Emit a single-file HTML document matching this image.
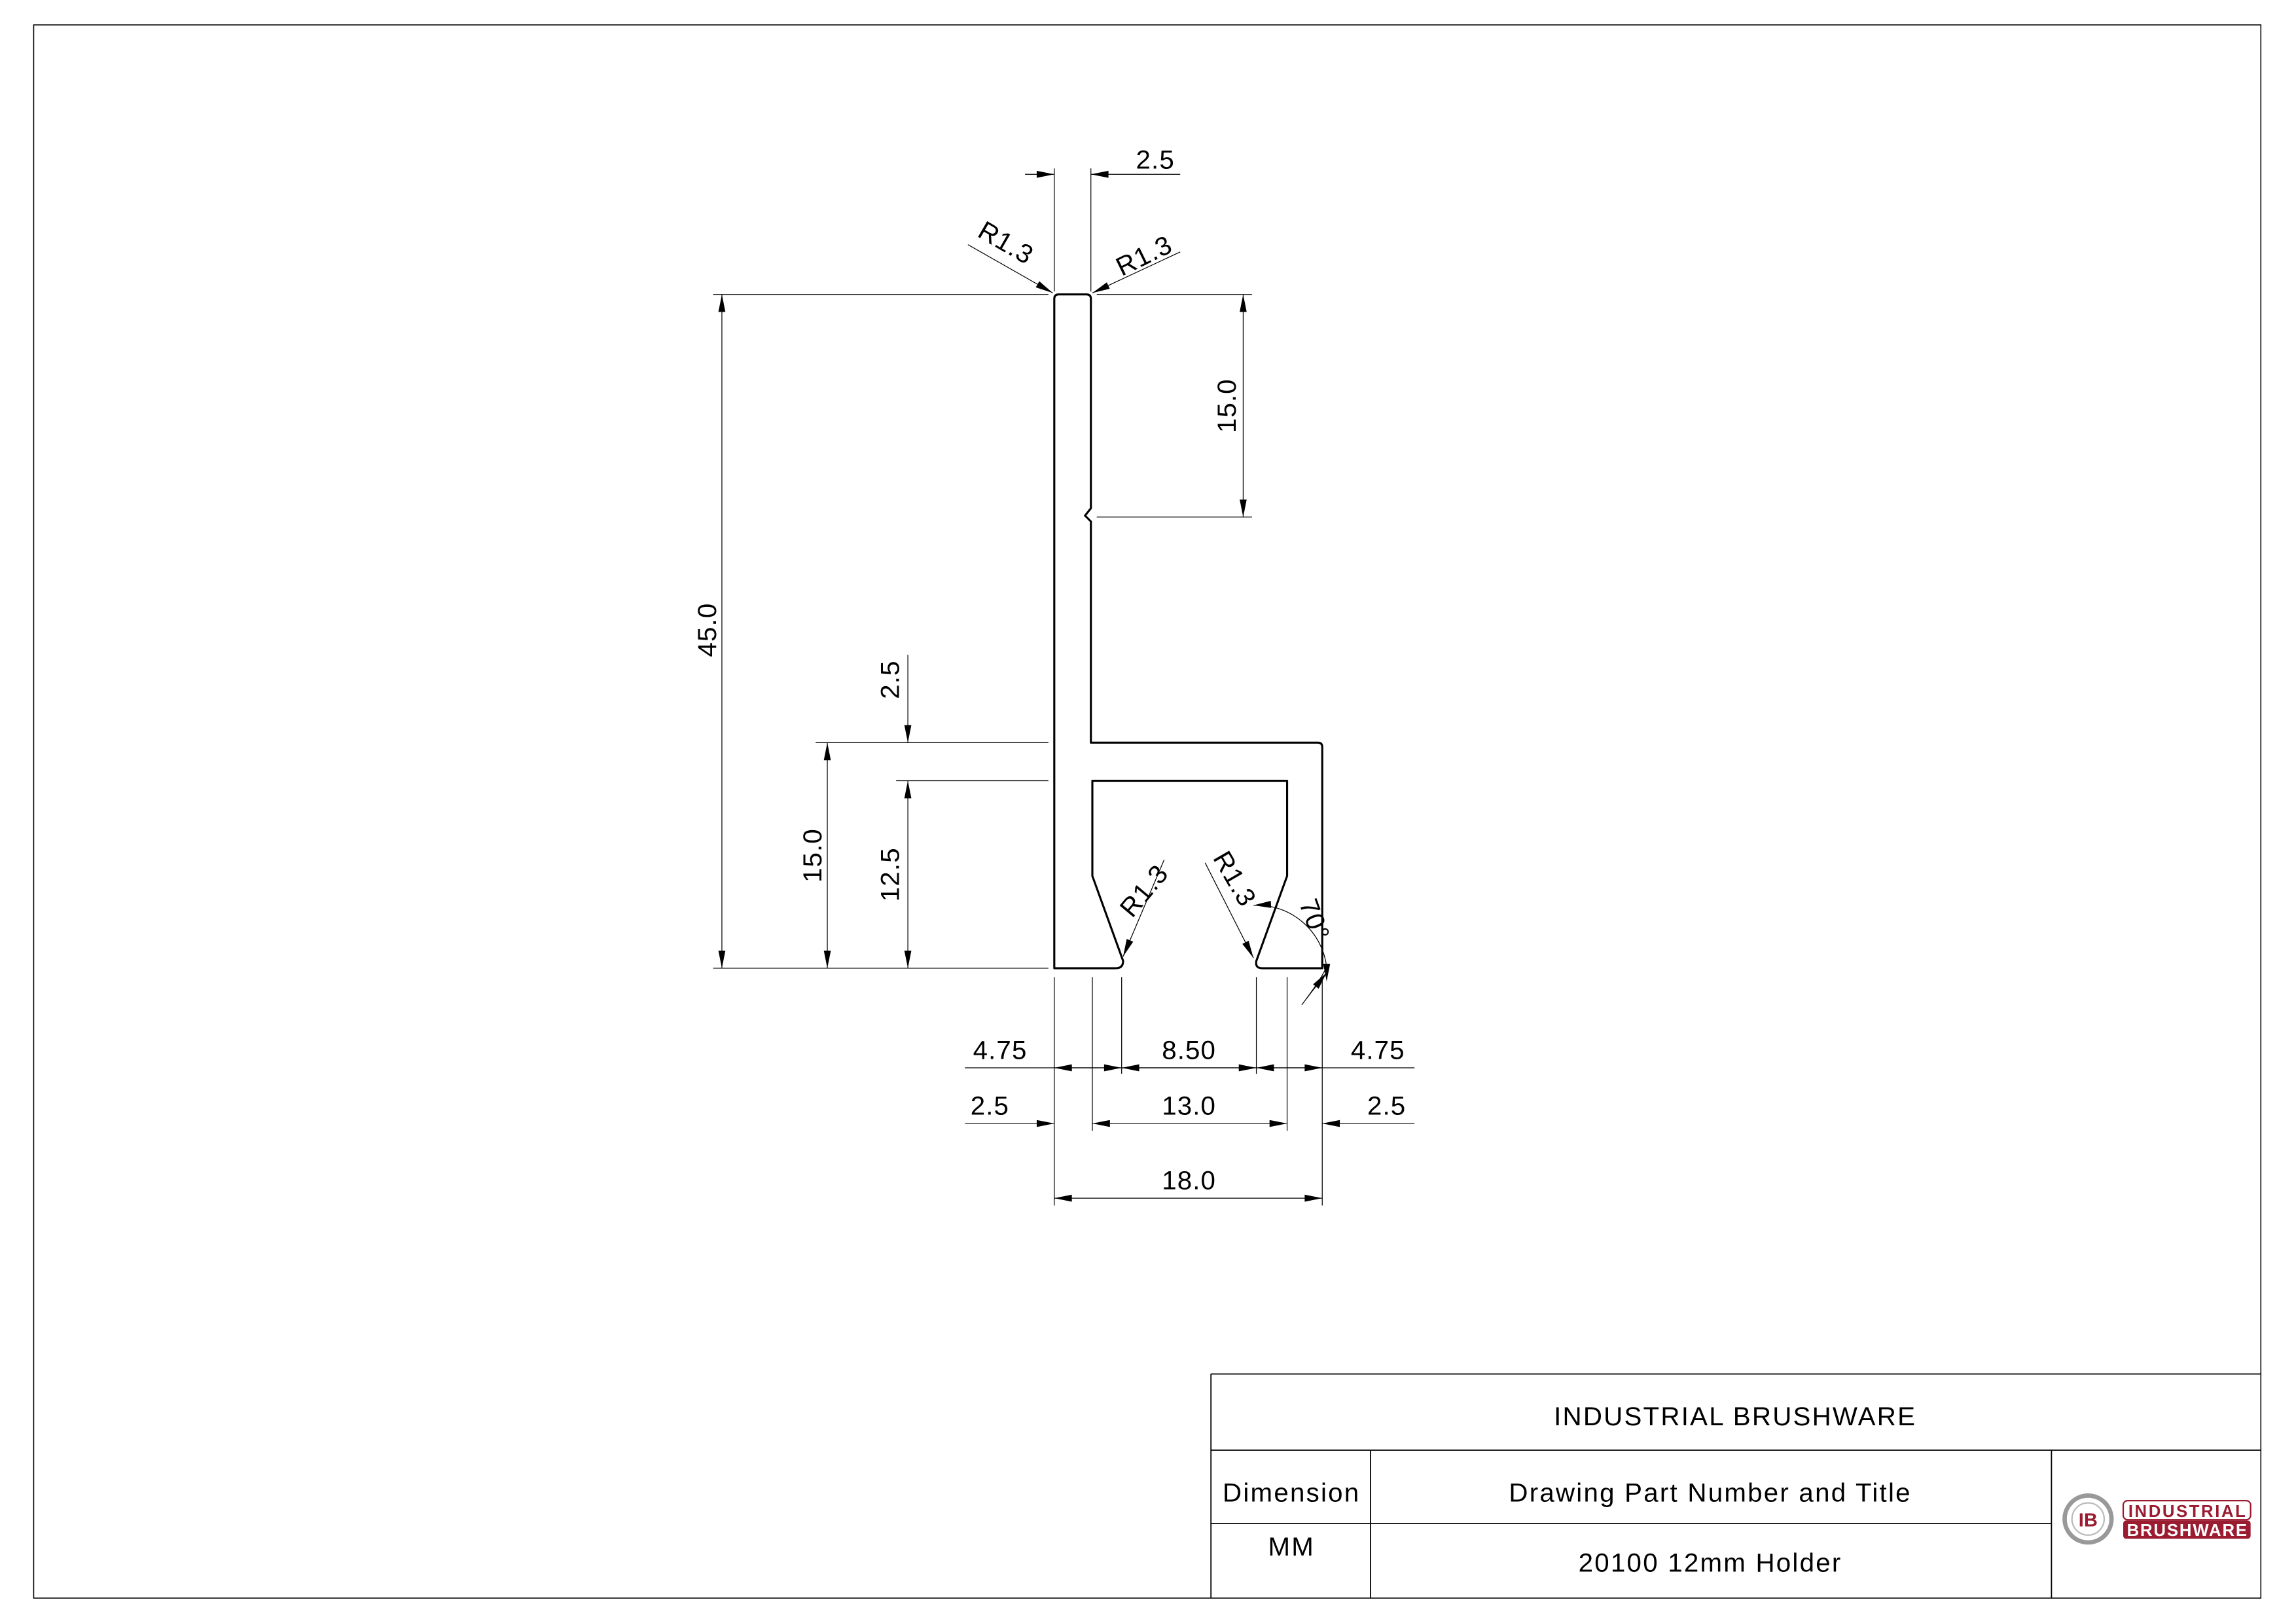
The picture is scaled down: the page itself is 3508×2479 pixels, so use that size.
<!DOCTYPE html>
<html><head><meta charset="utf-8"><style>
html,body{margin:0;padding:0;background:#fff;}
svg{display:block;}
text{font-family:"Liberation Sans",sans-serif;fill:#000;}
</style></head><body>
<svg width="3508" height="2479" viewBox="0 0 1568 1108" preserveAspectRatio="none" xmlns="http://www.w3.org/2000/svg">
<defs>
<marker id="a" markerUnits="userSpaceOnUse" markerWidth="14" markerHeight="6" refX="12" refY="3" orient="auto-start-reverse" viewBox="0 0 12 6">
<path d="M0,0.6 L12,3 L0,5.4 Z" fill="#000"/></marker>
</defs>
<rect width="1568" height="1108" fill="#fff"/>
<!-- frame -->
<rect x="23" y="17" width="1521" height="1074" fill="none" stroke="#000" stroke-width="0.7"/>
<!-- title block -->
<g stroke="#000" stroke-width="0.8" fill="none">
<path d="M827,938 H1544 M827,938 V1091 M827,990 H1544 M827,1040 H1401 M936,990 V1091 M1401,990 V1091"/>
</g>
<g font-size="18" text-anchor="middle" style="font-weight:normal" letter-spacing="1">
<text x="1185" y="973">INDUSTRIAL BRUSHWARE</text>
<text x="882" y="1025">Dimension</text>
<text x="1168" y="1025">Drawing Part Number and Title</text>
<text x="882" y="1062">MM</text>
<text x="1168" y="1073">20100 12mm Holder</text>
</g>
<!-- logo -->
<circle cx="1426" cy="1037" r="16" fill="none" stroke="#999" stroke-width="3"/>
<circle cx="1426" cy="1037" r="11" fill="#fff" stroke="#bbb" stroke-width="1"/>
<text x="1426" y="1042" font-size="13" font-weight="bold" text-anchor="middle" style="fill:#9b1b30">IB</text>
<rect x="1450" y="1024.5" width="87" height="13" rx="3" fill="#fff" stroke="#9b1b30" stroke-width="1"/>
<rect x="1450" y="1038" width="87" height="12.5" rx="2" fill="#9b1b30"/>
<text x="1493.5" y="1035.5" font-size="11.5" font-weight="bold" text-anchor="middle" style="fill:#9b1b30" textLength="80">INDUSTRIAL</text>
<text x="1493.5" y="1048.5" font-size="11.5" font-weight="bold" text-anchor="middle" style="fill:#fff" textLength="82">BRUSHWARE</text>

<!-- profile -->
<path d="M720,204 Q720,201 723,201 H742 Q745,201 745,204 V347 L741,352 L745,356 V507 H900 Q903,507 903,510 V661 H862 Q857,661 858,656 L879,598 V533 H746 V598 L767,656 Q767,661 762,661 H720 Z" fill="none" stroke="#000" stroke-width="1.4" stroke-linejoin="round"/>

<g stroke="#000" stroke-width="0.55" fill="none">
<!-- extension lines -->
<path d="M720,115 V199 M745,115 V199 M487,201 H716 M749,201 H855 M749,353 H855 M487,661 H716 M557,507 H716 M612,533 H716"/>
<path d="M720,667 V823 M746,667 V772 M766,667 V733 M858,667 V733 M879,667 V772 M903,667 V823"/>
<!-- top 2.5 -->
<path d="M700,119 H720" marker-end="url(#a)"/>
<path d="M806,119 H745" marker-end="url(#a)"/>
<!-- R1.3 top leaders -->
<path d="M661,167 L719,200" marker-end="url(#a)"/>
<path d="M806,172 L746,200" marker-end="url(#a)"/>
<!-- 15.0 right -->
<path d="M849,201 V353" marker-start="url(#a)" marker-end="url(#a)"/>
<!-- 45.0 -->
<path d="M493,201 V661" marker-start="url(#a)" marker-end="url(#a)"/>
<!-- 15.0 left -->
<path d="M565,507 V661" marker-start="url(#a)" marker-end="url(#a)"/>
<!-- 2.5 left -->
<path d="M620,447 V507" marker-end="url(#a)"/>
<!-- 12.5 -->
<path d="M620,533 V661" marker-start="url(#a)" marker-end="url(#a)"/>
<!-- row 4.75 / 8.50 / 4.75 -->
<path d="M659,729 H966"/>
<path d="M743,729 H720" marker-end="url(#a)"/>
<path d="M743,729 H766" marker-end="url(#a)"/>
<path d="M812,729 H766" marker-end="url(#a)"/>
<path d="M812,729 H858" marker-end="url(#a)"/>
<path d="M880,729 H858" marker-end="url(#a)"/>
<path d="M880,729 H903" marker-end="url(#a)"/>
<!-- row 2.5 / 13.0 / 2.5 -->
<path d="M659,767 H720" marker-end="url(#a)"/>
<path d="M746,767 H879" marker-start="url(#a)" marker-end="url(#a)"/>
<path d="M966,767 H903" marker-end="url(#a)"/>
<!-- 18.0 -->
<path d="M720,818 H903" marker-start="url(#a)" marker-end="url(#a)"/>
<!-- bottom R1.3 leaders -->
<path d="M795,587 L767,653" marker-end="url(#a)"/>
<path d="M823,589 L856,654" marker-end="url(#a)"/>
<!-- 70 deg arc -->
<path d="M856,618 A48,48 0 0 1 906,660" marker-start="url(#a)"/>
<path d="M889,686 Q902,669 906,660" />
<path d="M906,652 V670" marker-end="url(#a)" stroke="none"/>
</g>
<path d="M892,682 L906,664" stroke="#000" stroke-width="0.55" marker-end="url(#a)"/>

<!-- dim texts -->
<g font-size="18" text-anchor="middle" letter-spacing="0.5">
<text x="789" y="115">2.5</text>
<text x="683" y="723">4.75</text>
<text x="812" y="723">8.50</text>
<text x="941" y="723">4.75</text>
<text x="676" y="761">2.5</text>
<text x="812" y="761">13.0</text>
<text x="947" y="761">2.5</text>
<text x="812" y="812">18.0</text>
<text transform="translate(844,277) rotate(-90)">15.0</text>
<text transform="translate(489,430) rotate(-90)">45.0</text>
<text transform="translate(561,584) rotate(-90)">15.0</text>
<text transform="translate(614,464) rotate(-90)">2.5</text>
<text transform="translate(614,597) rotate(-90)">12.5</text>
<text transform="translate(684,171) rotate(30)">R1.3</text>
<text transform="translate(784,180) rotate(-26)">R1.3</text>
<text transform="translate(786,612) rotate(-50)">R1.3</text>
<text transform="translate(838,603) rotate(60)">R1.3</text>
<text transform="translate(892,630) rotate(70)">70°</text>
</g>
</svg>
</body></html>
